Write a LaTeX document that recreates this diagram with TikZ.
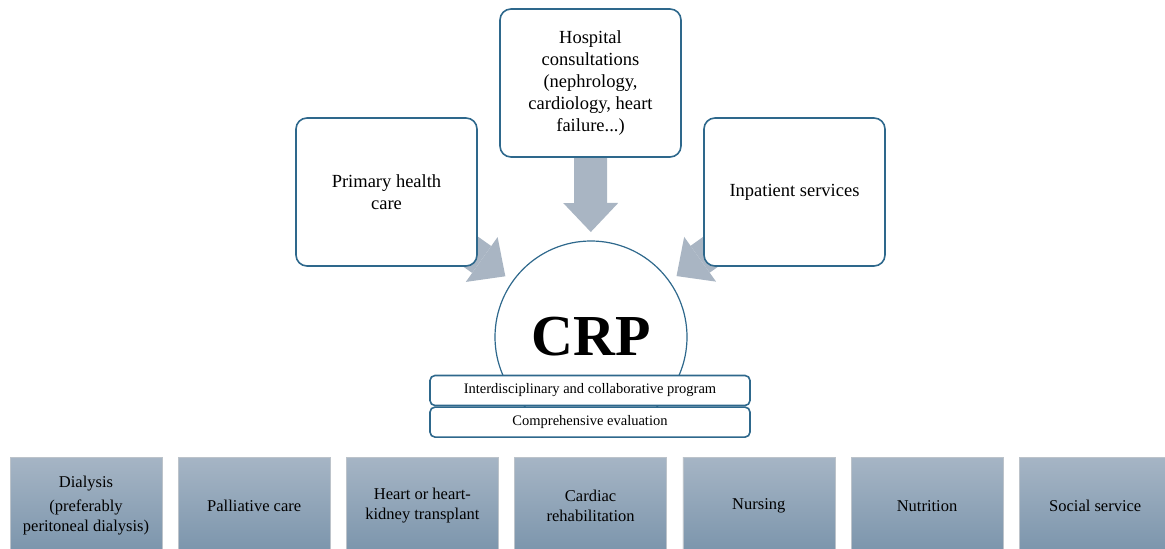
\documentclass[tikz,border=0pt]{standalone}
\usepackage{fontspec}
\setmainfont{Liberation Serif}
\usetikzlibrary{positioning, arrows.meta, backgrounds}

\definecolor{boxline}{RGB}{46,104,140}
\definecolor{arrowgray}{RGB}{169,181,195}
\definecolor{topshade}{RGB}{166,181,197}
\definecolor{bottomshade}{RGB}{122,148,171}
\definecolor{shadeline}{RGB}{188,195,202}

\begin{document}
\begin{tikzpicture}[
    x=1pt, y=-1pt,
    source/.style={%
      draw=boxline,
      line width=1.6pt,
      rounded corners=11pt,
      fill=white,
      minimum width=181pt,
      minimum height=148pt,
      align=center,
      font=\fontsize{18.5}{22}\selectfont,
    },
    program/.style={%
      draw=boxline,
      line width=1.6pt,
      rounded corners=5pt,
      fill=white,
      minimum width=320pt,
      minimum height=30pt,
      font=\fontsize{14.5}{16}\selectfont,
    },
    service/.style={%
      draw=shadeline,
      line width=0.6pt,
      top color=topshade,
      bottom color=bottomshade,
      minimum width=152pt,
      minimum height=98pt,
      align=center,
      font=\fontsize{16.5}{20}\selectfont,
    },
    feed/.style={%
      draw=arrowgray,
      line width=33pt,
      -{Triangle[width=55pt, length=29pt, line width=0pt]},
      shorten >=105pt,
    },
  ]

    \useasboundingbox (0,0) rectangle (1165,549);

    % the three referring services
    \node [source] (primary) at (386.5,192) {Primary health\\care};
    \node [source] (hosp) at (590.5,83) {Hospital\\consultations\\(nephrology,\\cardiology, heart\\failure...)};
    \node [source] (inpatient) at (794.5,192) {Inpatient services};

    % the program itself
    \node [draw=boxline, line width=1.2pt, fill=white, circle, minimum size=192pt,
      font=\bfseries\fontsize{58}{60}\selectfont] (crp) at (591,337) {CRP};
    \node [program] (inter) at (590,390.5) {Interdisciplinary and collaborative program};
    \node [program, below=0pt of inter] (evaluation) {Comprehensive evaluation};

    % what it offers
    \node [service] (dialysis) at (86,506) {Dialysis\\[4pt](preferably\\peritoneal dialysis)};
    \node [service, right=15.6pt of dialysis] (palliative) {Palliative care};
    \node [service, right=15.6pt of palliative] (transplant) {Heart or heart-\\kidney transplant};
    \node [service, right=15.6pt of transplant] (rehab) {Cardiac\\rehabilitation};
    \node [service, right=15.6pt of rehab] (nursing) {Nursing};
    \node [service, right=15.6pt of nursing] (nutrition) {Nutrition};
    \node [service, right=15.6pt of nutrition] (social) {Social service};

    \begin{scope}[on background layer]
      \draw [feed] (primary.center) -- (crp.center);
      \draw [feed] (hosp.center) -- (crp.center);
      \draw [feed] (inpatient.center) -- (crp.center);
    \end{scope}
\end{tikzpicture}
\end{document}
